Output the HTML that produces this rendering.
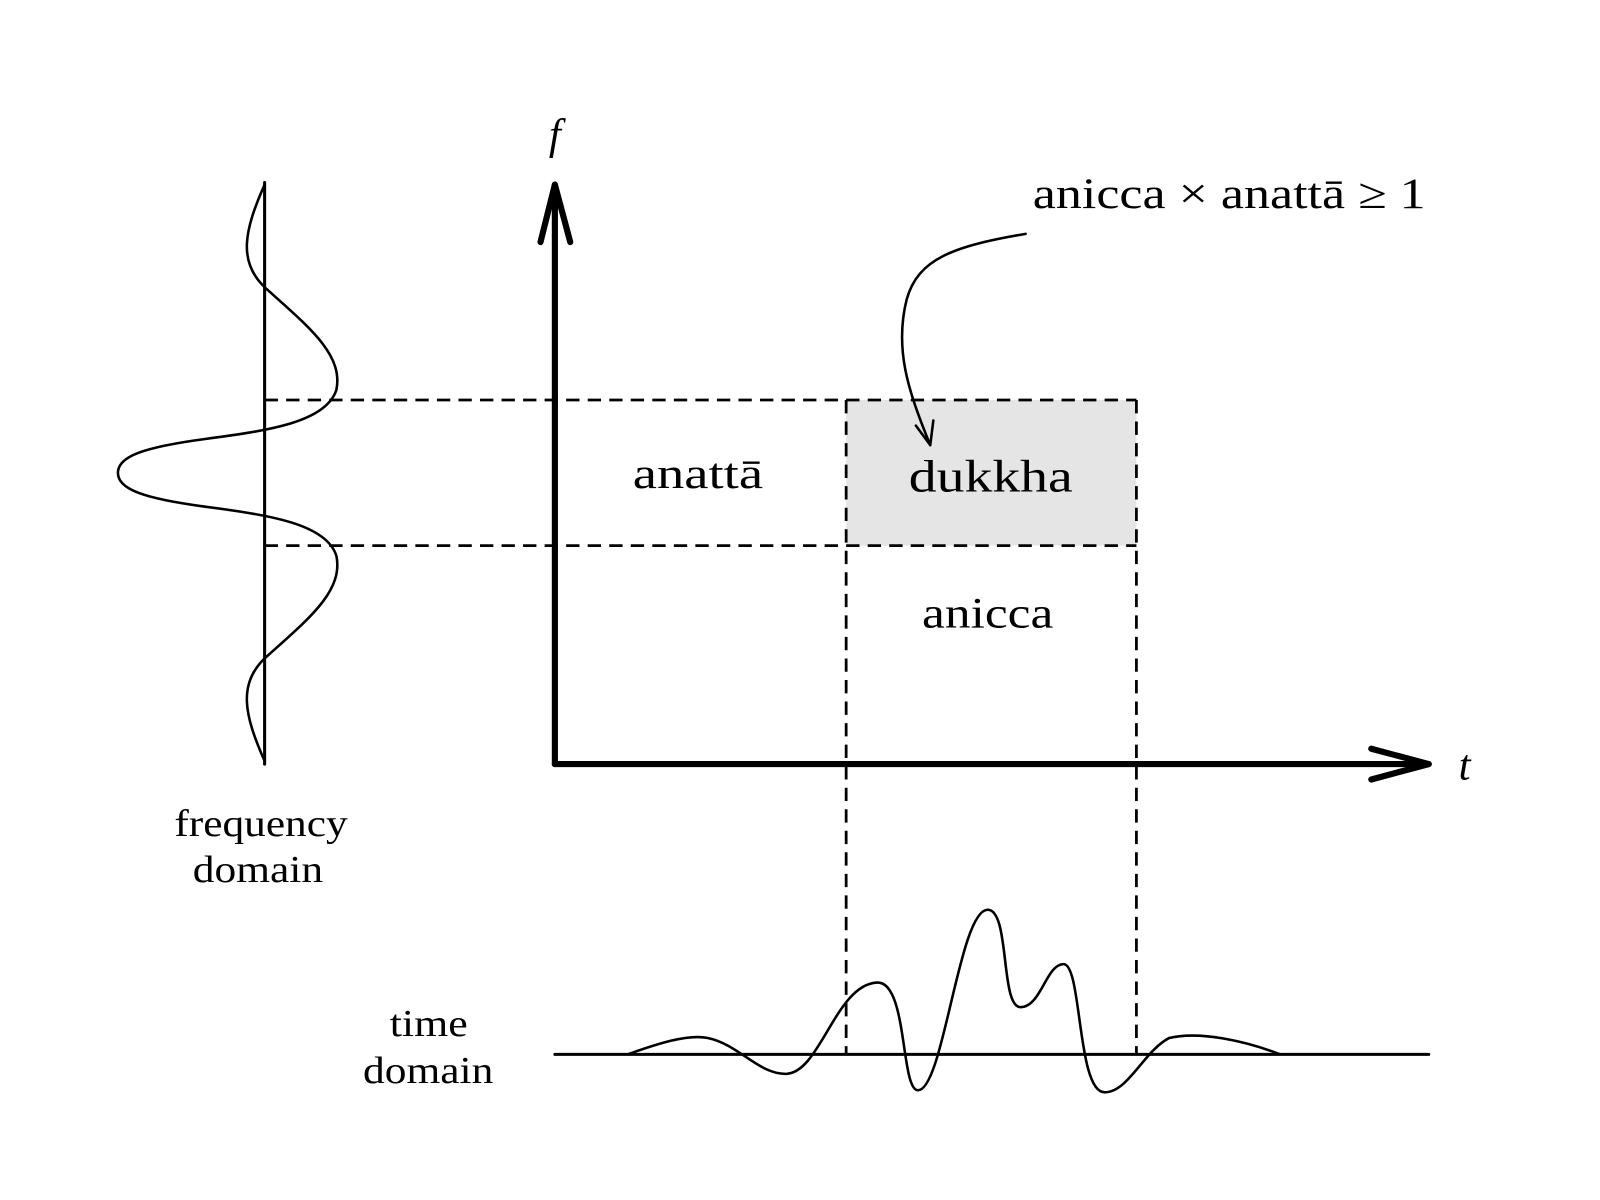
<!DOCTYPE html>
<html><head><meta charset="utf-8"><style>html,body{margin:0;padding:0;background:#fff}svg{display:block}</style></head>
<body>
<svg width="1600" height="1200" viewBox="0 0 1560 1170" xmlns="http://www.w3.org/2000/svg" font-family="'Liberation Serif', serif">
<rect x="0" y="0" width="1560" height="1170" fill="#fff"/>
<rect x="825" y="390" width="283" height="142" fill="#e5e5e5"/>
<g stroke="#000" stroke-width="2.7" stroke-dasharray="13,8" fill="none">
<line x1="258" y1="390" x2="1108" y2="390"/>
<line x1="258" y1="532" x2="1108" y2="532"/>
<line x1="825" y1="390" x2="825" y2="1028"/>
<line x1="1108" y1="390" x2="1108" y2="1028"/>
</g>
<g stroke="#000" fill="none" stroke-linecap="round" stroke-linejoin="round">
<line x1="541" y1="745" x2="541" y2="180" stroke-width="6"/>
<polyline points="527,236 541,180 556,236" stroke-width="6"/>
<line x1="541" y1="745" x2="1393" y2="745" stroke-width="6"/>
<polyline points="1337,730 1393,745 1337,760" stroke-width="6"/>
<line x1="258" y1="178" x2="258" y2="745" stroke-width="3"/>
<path stroke-width="2.5" d="M258,180 C238,225 232,255 258,280 C300,318 335,345 328,380 C318,412 260,420 200,428 C140,436 115,445 115,461 C115,477 140,486 200,494 C260,502 318,510 328,542 C335,577 300,604 258,642 C232,667 238,697 258,742"/>
<line x1="541" y1="1028" x2="1393" y2="1028" stroke-width="3"/>
<path stroke-width="2.5" d="M612,1028 C640,1018 670,1008 690,1012 C720,1018 740,1048 767,1047 C800,1045 815,960 855,958 C885,956 878,1063 895,1063 C920,1063 935,887 963,887 C985,887 975,982 995,982 C1015,982 1020,940 1037,940 C1055,940 1050,1065 1077,1065 C1100,1065 1115,1025 1140,1012 C1170,1005 1215,1015 1248,1028"/>
<path stroke-width="2.5" d="M1000,228 C930,240 895,252 884,292 C872,340 885,380 907,434"/>
<polyline stroke-width="2.5" points="893,415 907,434 910,410"/>
</g>
<g fill="#000">
<text x="541" y="145" font-size="42" font-style="italic" text-anchor="middle">f</text>
<text x="1428" y="760" font-size="42" font-style="italic" text-anchor="middle">t</text>
<text x="1007" y="203" font-size="42" textLength="383" lengthAdjust="spacingAndGlyphs">anicca × anattā ≥ 1</text>
<text x="617" y="476" font-size="42" textLength="127" lengthAdjust="spacingAndGlyphs">anattā</text>
<text x="886" y="479" font-size="44" textLength="160" lengthAdjust="spacingAndGlyphs">dukkha</text>
<text x="899" y="612" font-size="42" textLength="128" lengthAdjust="spacingAndGlyphs">anicca</text>
<text x="170" y="815" font-size="37" textLength="169" lengthAdjust="spacingAndGlyphs">frequency</text>
<text x="188" y="860" font-size="37" textLength="127" lengthAdjust="spacingAndGlyphs">domain</text>
<text x="380" y="1010" font-size="37" textLength="76" lengthAdjust="spacingAndGlyphs">time</text>
<text x="354" y="1056" font-size="37" textLength="127" lengthAdjust="spacingAndGlyphs">domain</text>
</g>
</svg>
</body></html>
